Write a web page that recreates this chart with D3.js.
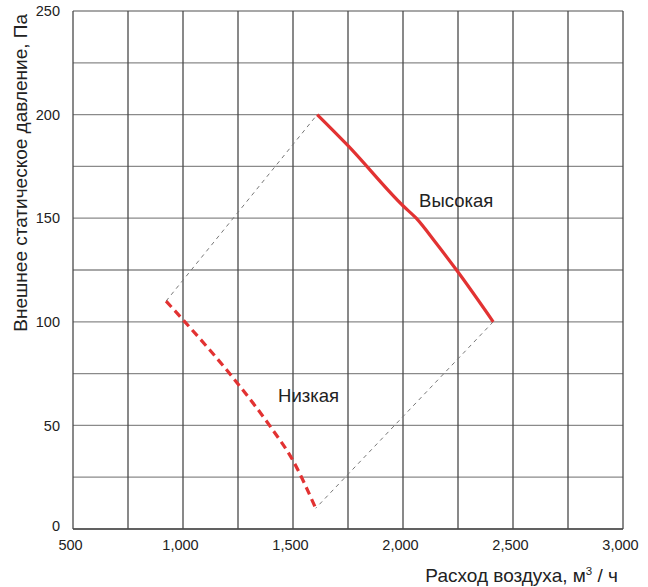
<!DOCTYPE html>
<html><head><meta charset="utf-8">
<script src="https://cdn.jsdelivr.net/npm/d3@7/dist/d3.min.js"></script>
<style>body{margin:0;background:#fff;} text{font-family:"Liberation Sans",Arial,sans-serif;fill:#222;}</style>
</head><body><svg id="c" width="648" height="587"></svg>
<script>
const xTicks = [500, 1000, 1500, 2000, 2500, 3000];
const yTicks = [0, 50, 100, 150, 200, 250];
const xGrid = [500, 750, 1000, 1250, 1500, 1750, 2000, 2250, 2500, 2750, 3000];
const yGrid = [0, 25, 50, 75, 100, 125, 150, 175, 200, 225, 250];
const highFlow = [1610, 1750, 2000, 2060, 2150, 2250, 2410];
const highPress = [200, 185, 156, 150, 138, 124, 100];
const lowFlow = [923, 1000, 1250, 1400, 1500, 1603];
const lowPress = [110, 101, 70, 49, 33, 10];
const envelope1Flow = [923, 1610];
const envelope1Press = [110, 200];
const envelope2Flow = [2410, 1603];
const envelope2Press = [100, 10];
const labelHigh = {text: "Высокая", flow: 2073, press: 155.5};
const labelLow = {text: "Низкая", flow: 1432, press: 61.5};

const svg = d3.select("#c");
const x = d3.scaleLinear().domain([500, 3000]).range([73, 623]);
const y = d3.scaleLinear().domain([0, 250]).range([529, 11]);

// grid
svg.append("g").selectAll("line").data(yGrid).join("line")
  .attr("x1", x(500)).attr("x2", x(3000)).attr("y1", d => y(d)).attr("y2", d => y(d))
  .attr("stroke", "#8a8a8a").attr("stroke-width", 1.3);
svg.append("g").selectAll("line").data(xGrid).join("line")
  .attr("y1", y(0)).attr("y2", y(250)).attr("x1", d => x(d)).attr("x2", d => x(d))
  .attr("stroke", "#4a4a4a").attr("stroke-width", 1.3);
svg.append("line").attr("x1", x(500)).attr("x2", x(3000)).attr("y1", y(0)).attr("y2", y(0))
  .attr("stroke", "#4a4a4a").attr("stroke-width", 1.5);

// axes
const xAxis = svg.append("g").attr("transform", `translate(0,${y(0)})`)
  .call(d3.axisBottom(x).tickValues(xTicks).tickSize(0).tickPadding(11).tickFormat(d3.format(",")));
xAxis.select(".domain").remove();
xAxis.selectAll("text").attr("font-size", 14.5).attr("fill", "#222").attr("dx", -3)
  .attr("font-family", "'Liberation Sans',Arial,sans-serif");
const yAxis = svg.append("g").attr("transform", `translate(${x(500)},0)`)
  .call(d3.axisLeft(y).tickValues(yTicks).tickSize(0).tickPadding(13));
yAxis.select(".domain").remove();
yAxis.selectAll("text").attr("font-size", 14.5).attr("fill", "#222")
  .attr("font-family", "'Liberation Sans',Arial,sans-serif");
yAxis.selectAll(".tick").filter(d => d === 0).select("text").attr("dy", "0.1em");

// envelope
const line = d3.line().x(d => x(d[0])).y(d => y(d[1]));
[[envelope1Flow, envelope1Press], [envelope2Flow, envelope2Press]].forEach(([f, p]) => {
  svg.append("path").datum(f.map((v, i) => [v, p[i]])).attr("d", line)
    .attr("fill", "none").attr("stroke", "#777").attr("stroke-width", 1).attr("stroke-dasharray", "4,4");
});

const curve = d3.line().x(d => x(d[0])).y(d => y(d[1])).curve(d3.curveMonotoneX);
svg.append("path").datum(highFlow.map((v, i) => [v, highPress[i]])).attr("d", curve)
  .attr("fill", "none").attr("stroke", "#e23232").attr("stroke-width", 3.2);
svg.append("path").datum(lowFlow.map((v, i) => [v, lowPress[i]])).attr("d", curve)
  .attr("fill", "none").attr("stroke", "#e23232").attr("stroke-width", 3.2).attr("stroke-dasharray", "8,5");

svg.append("text").attr("x", x(labelHigh.flow)).attr("y", y(labelHigh.press)).attr("font-size", 18.5).text(labelHigh.text);
svg.append("text").attr("x", x(labelLow.flow)).attr("y", y(labelLow.press)).attr("font-size", 18.5).text(labelLow.text);

// titles
const xt = svg.append("text").attr("x", 618).attr("y", 582).attr("text-anchor", "end").attr("font-size", 19);
xt.append("tspan").text("Расход воздуха, м");
xt.append("tspan").attr("font-size", 11.5).attr("dy", -7).text("3");
xt.append("tspan").attr("dy", 7).text(" / ч");
svg.append("text").attr("transform", "translate(27,14) rotate(-90)").attr("text-anchor", "end")
  .attr("font-size", 19).text("Внешнее статическое давление, Па");
</script></body></html>
